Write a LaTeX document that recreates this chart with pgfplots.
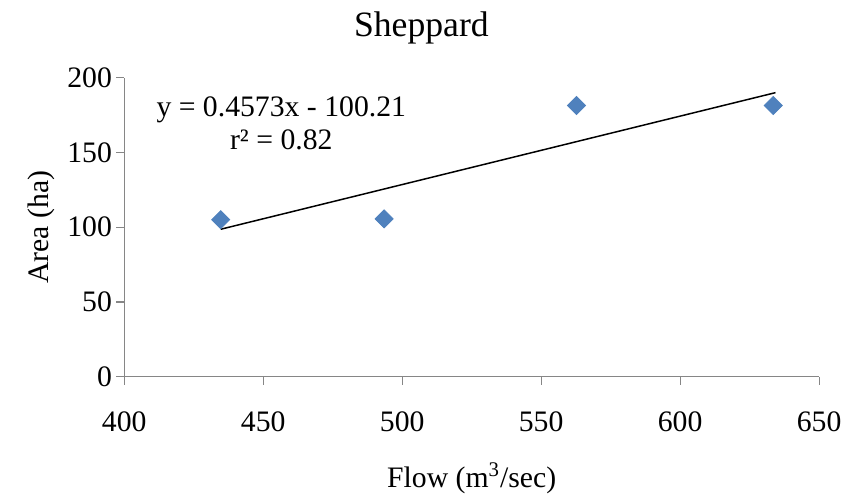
\documentclass[border=0pt]{standalone}
\usepackage{pgfplots}
\pgfplotsset{compat=1.18}
\usepackage{fontspec}
\setmainfont{Liberation Serif}
\definecolor{exblue}{HTML}{4F81BD}
\definecolor{axgray}{HTML}{868686}
\begin{document}
\begin{tikzpicture}
\begin{axis}[
  scale only axis,
  width=349.5bp, height=150.5bp,
  xmin=400, xmax=650, ymin=0, ymax=200,
  xtick={400,450,...,650}, ytick={0,50,...,200},
  axis x line=bottom, axis y line=left,
  axis line style={-, axgray, line width=0.6bp},
  tick style={axgray, line width=0.6bp},
  tick align=outside, major tick length=4bp,
  tick label style={font=\fontsize{15}{17}\selectfont},
  /pgf/number format/assume math mode=true,
  /pgf/number format/1000 sep={},
  xticklabel style={yshift=-10bp},
  yticklabel style={inner sep=1bp, xshift=-1bp},
  xlabel={Flow (m\textsuperscript{3}/sec)},
  ylabel={Area (ha)},
  label style={font=\fontsize{15}{17}\selectfont},
  xlabel style={yshift=-9bp},
  ylabel style={yshift=2bp},
  clip=false,
]
\addplot[only marks, mark=square*, mark size=3.2bp,
  mark options={rotate=45, fill=exblue, draw=exblue}]
  coordinates {(434.7,105) (493.5,105.5) (562.7,181.3) (633.5,181.3)};
\addplot[black, line width=0.75bp, no marks]
  coordinates {(434.7,98.6) (634.3,189.9)};
\node[align=center, font=\fontsize{15}{17}\selectfont]
  at (axis cs:456.5,169.4) {y = 0.4573x - 100.21\\r² = 0.82};
\node[font=\fontsize{18}{20}\selectfont] at (axis cs:506.9,233.2) {Sheppard};
\end{axis}
\path[use as bounding box] (-62.5bp,-58.5bp) rectangle (361.5bp,189.5bp);
\end{tikzpicture}
\end{document}
